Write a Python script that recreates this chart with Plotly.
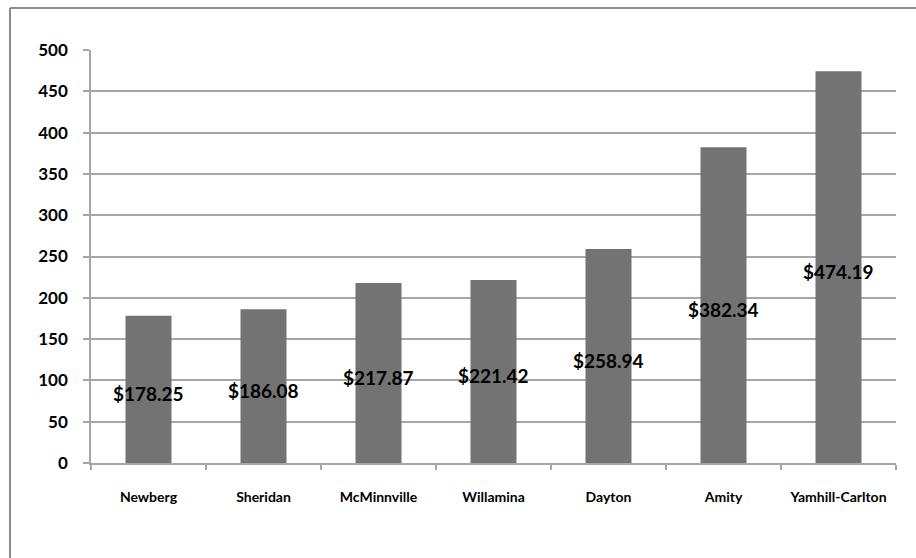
import plotly.graph_objects as go

# Cost per student by district
districts = ["Newberg", "Sheridan", "McMinnville", "Willamina", "Dayton", "Amity", "Yamhill-Carlton"]
costs = [178.25, 186.08, 217.87, 221.42, 258.94, 382.34, 474.19]
y_ticks = [0, 50, 100, 150, 200, 250, 300, 350, 400, 450, 500]

W, H = 916, 558
ML, MR, MT, MB = 91, 20, 50, 95
pw = W - ML - MR
ph = H - MT - MB

FONT = "Lato"
GRAY = "#a6a6a6"

fig = go.Figure()
fig.add_trace(go.Bar(
    x=districts, y=costs,
    marker=dict(color="#737373", line=dict(width=0)),
    width=0.4, hoverinfo="skip", showlegend=False,
))

# value labels centred on each bar
for d, c in zip(districts, costs):
    fig.add_annotation(
        x=d, y=c / 2, xref="x", yref="y",
        text=f"${c:.2f}", showarrow=False, yshift=-4,
        font=dict(family=FONT, size=19, color="#000000", weight="bold"),
    )

# outer chart frame (left and top edges visible)
px = lambda x: (x - ML) / pw
py = lambda y: (H - MB - y) / ph
fig.add_shape(type="line", xref="paper", yref="paper",
              x0=px(10), x1=px(10), y0=py(8), y1=py(H + 10),
              line=dict(color="#8c8c8c", width=2))
fig.add_shape(type="line", xref="paper", yref="paper",
              x0=px(10), x1=px(W + 10), y0=py(8), y1=py(8),
              line=dict(color="#8c8c8c", width=2))

fig.update_layout(
    width=W, height=H,
    margin=dict(l=ML, r=MR, t=MT, b=MB),
    paper_bgcolor="white", plot_bgcolor="white",
    bargap=0.6,
    xaxis=dict(
        type="category", tickson="boundaries",
        ticks="outside", ticklen=5, tickcolor=GRAY, tickwidth=1.5,
        showline=True, linecolor=GRAY, linewidth=1.5,
        showgrid=False,
        tickfont=dict(family=FONT, size=14, color="#000000", weight="bold"),
        ticklabelstandoff=20,
    ),
    yaxis=dict(
        range=[0, 500], tickvals=y_ticks,
        ticks="outside", ticklen=6, tickcolor=GRAY, tickwidth=1.5,
        showline=True, linecolor=GRAY, linewidth=1.5,
        showgrid=True, gridcolor=GRAY, gridwidth=1.5,
        zeroline=False,
        tickfont=dict(family=FONT, size=17, color="#000000", weight="bold"),
        ticklabelstandoff=12,
    ),
)

fig.write_html("out.html")
